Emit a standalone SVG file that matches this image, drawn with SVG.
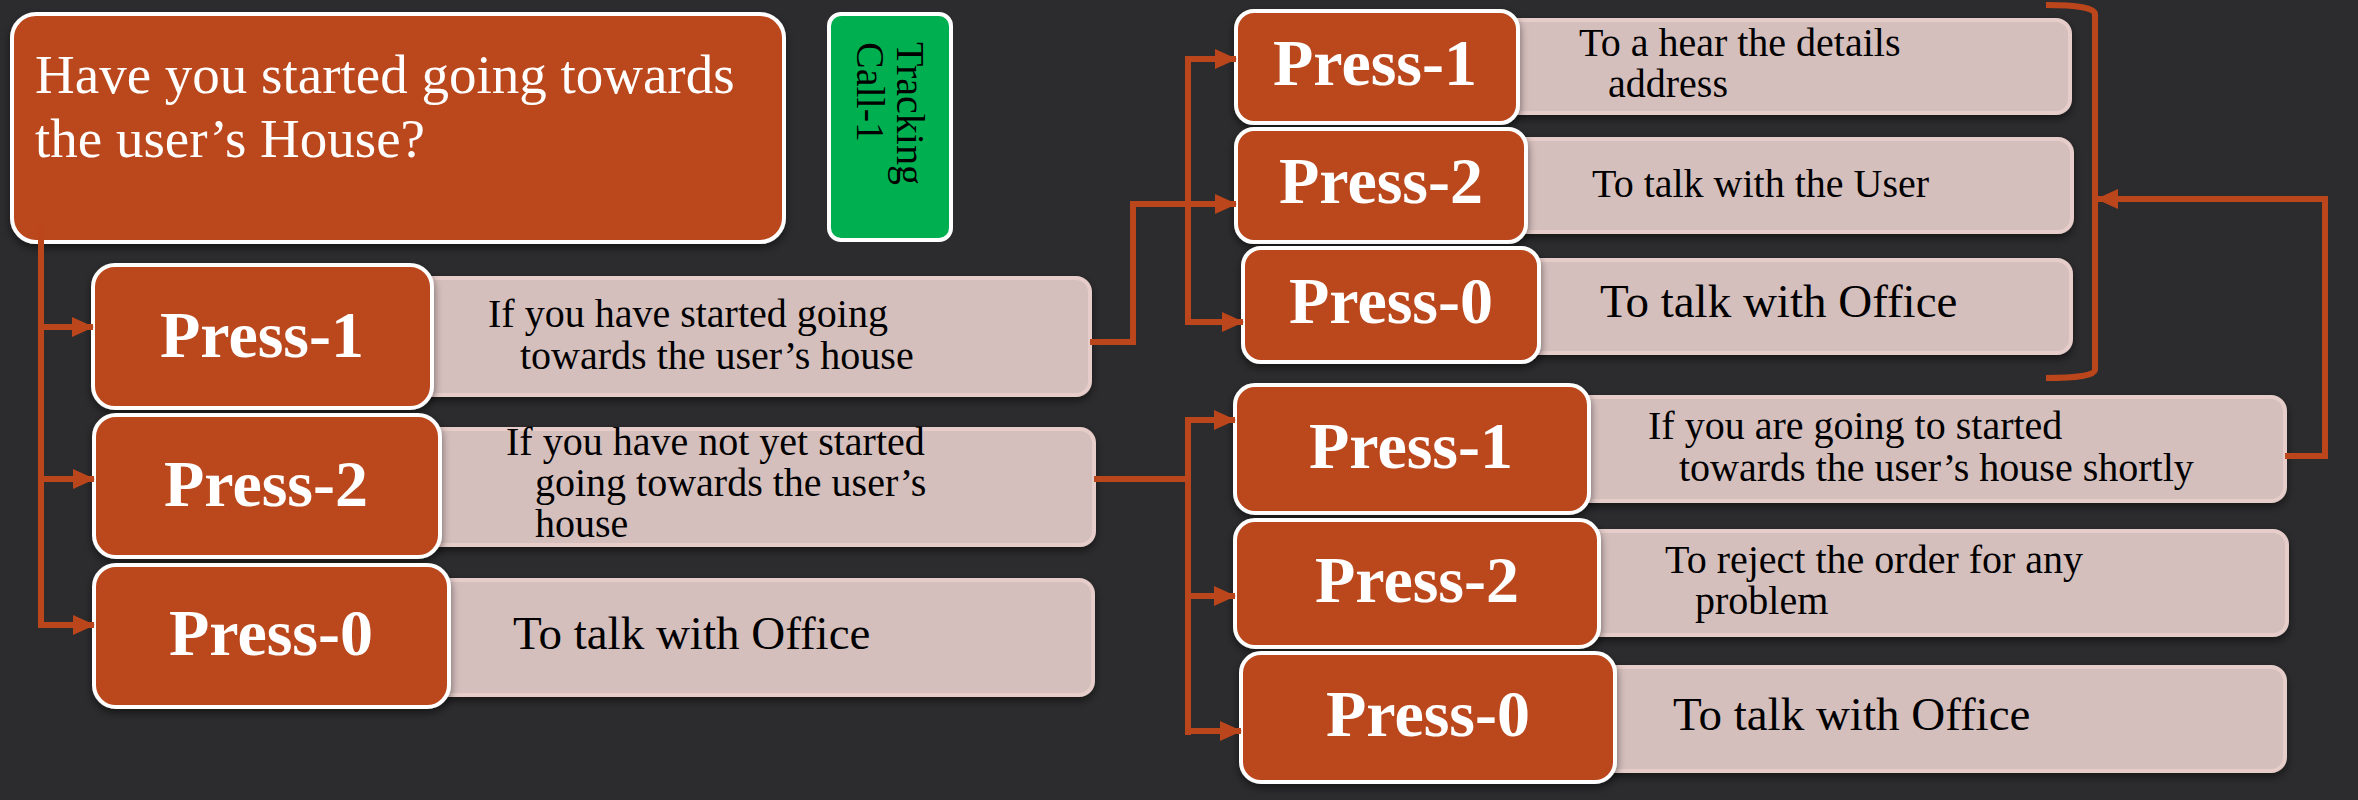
<svg xmlns="http://www.w3.org/2000/svg" width="2358" height="800" viewBox="0 0 2358 800">
<defs>
<style>
.bg{fill:#2c2c2e}
.q{fill:#bb461c;stroke:#ffffff;stroke-width:4}
.press{fill:#bb461c;stroke:#ffffff;stroke-width:4}
.desc{fill:#d5bfbd;stroke:#e6cdca;stroke-width:4}
.green{fill:#00b050;stroke:#ffffff;stroke-width:4}
.qt{font-family:"Liberation Serif","Times New Roman",serif;font-size:55px;fill:#ffffff}
.pt{font-family:"Liberation Serif","Times New Roman",serif;font-size:66px;font-weight:bold;fill:#ffffff;text-anchor:middle}
.dt{font-family:"Liberation Serif","Times New Roman",serif;font-size:40px;fill:#000000}
.dt2{font-family:"Liberation Serif","Times New Roman",serif;font-size:47px;fill:#000000}
.gt{font-family:"Liberation Serif","Times New Roman",serif;font-size:40px;fill:#000000}
.ln{fill:none;stroke:#bb461c;stroke-width:6;stroke-linejoin:miter}
.ar{fill:none;stroke:#bb461c;stroke-width:6;marker-end:url(#ah)}
</style>
<marker id="ah" markerUnits="userSpaceOnUse" markerWidth="22" markerHeight="20" refX="21" refY="10" orient="auto">
<path d="M0,0 L22,10 L0,20 z" fill="#bb461c"/>
</marker>
<filter id="sh" x="-5%" y="-5%" width="110%" height="120%">
<feDropShadow dx="0" dy="4" stdDeviation="4" flood-color="#000" flood-opacity="0.5"/>
</filter>
</defs>
<rect class="bg" x="0" y="0" width="2358" height="800"/>

<g id="question">
<rect class="q" x="12" y="14" width="772" height="228" rx="24" filter="url(#sh)"/>
<text class="qt" x="35" y="93">Have you started going towards</text>
<text class="qt" x="35" y="157">the user’s House?</text>
</g>

<g id="tracking">
<rect class="green" x="829" y="14" width="122" height="226" rx="12"/>
<g transform="translate(897,42) rotate(90)">
<text class="gt" x="0" y="0">Tracking</text>
<text class="gt" x="0" y="40">Call-1</text>
</g>
</g>

<g id="l-press1">
<rect class="desc" x="400" y="278" width="690" height="117" rx="14" filter="url(#sh)"/>
<rect class="press" x="93" y="265" width="339" height="143" rx="22" filter="url(#sh)"/>
<text class="pt" x="262" y="357">Press-1</text>
<text class="dt" x="488" y="327">If you have started going</text>
<text class="dt" x="520" y="369">towards the user’s house</text>
</g>

<g id="l-press2">
<rect class="desc" x="400" y="429" width="694" height="116" rx="14" filter="url(#sh)"/>
<rect class="press" x="94" y="415" width="346" height="142" rx="22" filter="url(#sh)"/>
<text class="pt" x="266" y="506">Press-2</text>
<text class="dt" x="506" y="455">If you have not yet started</text>
<text class="dt" x="535" y="496">going towards the user’s</text>
<text class="dt" x="535" y="537">house</text>
</g>

<g id="l-press0">
<rect class="desc" x="400" y="580" width="693" height="115" rx="14" filter="url(#sh)"/>
<rect class="press" x="94" y="565" width="355" height="142" rx="22" filter="url(#sh)"/>
<text class="pt" x="271" y="655">Press-0</text>
<text class="dt2" x="513" y="649">To talk with Office</text>
</g>

<g id="a-press1">
<rect class="desc" x="1480" y="20" width="590" height="93" rx="14" filter="url(#sh)"/>
<rect class="press" x="1236" y="11" width="282" height="112" rx="18" filter="url(#sh)"/>
<text class="pt" x="1375" y="85">Press-1</text>
<text class="dt" x="1579" y="56">To a hear the details</text>
<text class="dt" x="1608" y="97">address</text>
</g>

<g id="a-press2">
<rect class="desc" x="1480" y="139" width="592" height="93" rx="14" filter="url(#sh)"/>
<rect class="press" x="1236" y="129" width="290" height="113" rx="18" filter="url(#sh)"/>
<text class="pt" x="1381" y="203">Press-2</text>
<text class="dt" x="1592" y="197">To talk with the User</text>
</g>

<g id="a-press0">
<rect class="desc" x="1480" y="260" width="591" height="93" rx="14" filter="url(#sh)"/>
<rect class="press" x="1243" y="248" width="296" height="114" rx="18" filter="url(#sh)"/>
<text class="pt" x="1391" y="323">Press-0</text>
<text class="dt2" x="1600" y="317">To talk with Office</text>
</g>

<g id="b-press1">
<rect class="desc" x="1550" y="397" width="735" height="104" rx="14" filter="url(#sh)"/>
<rect class="press" x="1235" y="385" width="354" height="128" rx="20" filter="url(#sh)"/>
<text class="pt" x="1411" y="468">Press-1</text>
<text class="dt" x="1648" y="439">If you are going to started</text>
<text class="dt" x="1679" y="481">towards the user’s house shortly</text>
</g>

<g id="b-press2">
<rect class="desc" x="1550" y="531" width="737" height="104" rx="14" filter="url(#sh)"/>
<rect class="press" x="1235" y="520" width="364" height="127" rx="20" filter="url(#sh)"/>
<text class="pt" x="1417" y="602">Press-2</text>
<text class="dt" x="1665" y="573">To reject the order for any</text>
<text class="dt" x="1695" y="614">problem</text>
</g>

<g id="b-press0">
<rect class="desc" x="1550" y="667" width="735" height="104" rx="14" filter="url(#sh)"/>
<rect class="press" x="1241" y="653" width="374" height="129" rx="20" filter="url(#sh)"/>
<text class="pt" x="1428" y="736">Press-0</text>
<text class="dt2" x="1673" y="730">To talk with Office</text>
</g>

<g id="connectors">
<path class="ln" d="M41,223 L41,627"/>
<path class="ar" d="M38,327 L93,327"/>
<path class="ar" d="M38,479 L94,479"/>
<path class="ar" d="M38,625 L94,625"/>

<path class="ln" d="M1090,342 L1133,342 L1133,204"/>
<path class="ar" d="M1130,204 L1236,204"/>
<path class="ln" d="M1188,59 L1188,322"/>
<path class="ar" d="M1185,59 L1236,59"/>
<path class="ar" d="M1185,322 L1243,322"/>

<path class="ln" d="M1094,479 L1188,479"/>
<path class="ln" d="M1188,420 L1188,735"/>
<path class="ar" d="M1185,420 L1235,420"/>
<path class="ar" d="M1185,596 L1235,596"/>
<path class="ar" d="M1185,731 L1241,731"/>

<path class="ln" d="M2046,5 Q2094,5 2095,14 L2095,370 Q2094,378 2046,378"/>
<path class="ln" d="M2285,456 L2325,456 L2325,199"/>
<path class="ar" d="M2328,199 L2097,199"/>
</g>
</svg>
